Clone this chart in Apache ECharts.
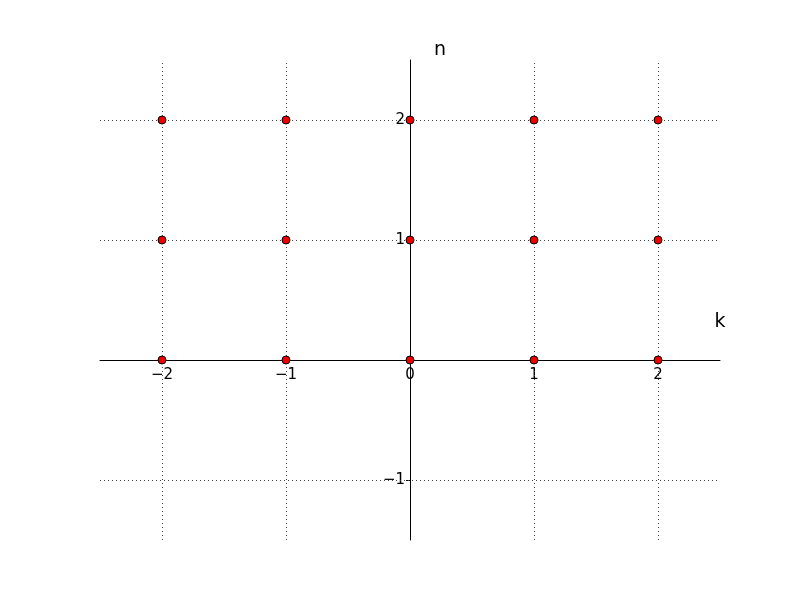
<!DOCTYPE html>
<html><head><meta charset="utf-8">
<script src="https://cdn.jsdelivr.net/npm/echarts@6/dist/echarts.min.js"></script>
<style>html,body{margin:0;padding:0;background:#fff}#c{width:800px;height:600px}</style>
</head><body><div id="c"></div>
<script>
const kValues = [-2, -1, 0, 1, 2];
const nValues = [0, 1, 2];
const xTicks = [-2, -1, 0, 1, 2];
const yTicks = [-1, 0, 1, 2];
const yLabels = [-1, 1, 2];
const xRange = [-2.5, 2.5];
const yRange = [-1.5, 2.5];

const points = [];
nValues.forEach(n => kValues.forEach(k => points.push([k, n])));

const fmt = v => (v < 0 ? '\u2212' + Math.abs(v) : String(v));
const font = 'DejaVu Sans';
const gridLine = { color: '#444', width: 1, type: [1, 3] };

const G = { left: 100, top: 60, width: 620, height: 480 };
// shift spines to pass through zero (like matplotlib 'zero' spines)
const xAxisOffset = -((0 - yRange[0]) / (yRange[1] - yRange[0])) * G.height;
const yAxisOffset = -((0 - xRange[0]) / (xRange[1] - xRange[0])) * G.width;

const chart = echarts.init(document.getElementById('c'));
chart.setOption({
  animation: false,
  grid: G,
  xAxis: [{
    type: 'value', min: xRange[0], max: xRange[1], position: 'bottom', offset: xAxisOffset,
    axisLine: { onZero: false, lineStyle: { color: '#000', width: 1 } },
    axisTick: { show: true, customValues: xTicks, length: 4, lineStyle: { color: '#000' } },
    axisLabel: { customValues: xTicks, formatter: fmt, color: '#000', fontFamily: font, fontSize: 15, margin: 8 },
    splitLine: { show: false },
    name: 'k', nameLocation: 'end', nameGap: 0,
    nameTextStyle: { fontFamily: font, fontSize: 19, color: '#000', align: 'center', verticalAlign: 'bottom', padding: [0, 0, 28, 0] }
  }, {
    type: 'value', min: xRange[0], max: xRange[1], position: 'top',
    axisLine: { show: false },
    axisTick: { show: true, inside: true, customValues: xTicks, length: 4, lineStyle: { color: '#000' } },
    axisLabel: { show: false }, splitLine: { show: false }
  }],
  yAxis: [{
    type: 'value', min: yRange[0], max: yRange[1], position: 'left', offset: yAxisOffset,
    axisLine: { onZero: false, lineStyle: { color: '#000', width: 1 } },
    axisTick: { show: true, customValues: yTicks, length: 4, lineStyle: { color: '#000' } },
    axisLabel: { customValues: yLabels, formatter: fmt, color: '#000', fontFamily: font, fontSize: 15, margin: 5 },
    splitLine: { show: false },
    name: 'n', nameLocation: 'end', nameGap: 0,
    nameTextStyle: { fontFamily: font, fontSize: 19, color: '#000', align: 'left', verticalAlign: 'bottom', padding: [0, 0, 0, 24] }
  }, {
    type: 'value', min: yRange[0], max: yRange[1], position: 'right',
    axisLine: { show: false },
    axisTick: { show: true, inside: true, customValues: yTicks, length: 4, lineStyle: { color: '#000' } },
    axisLabel: { show: false }, splitLine: { show: false }
  }],
  series: [{
    type: 'scatter', xAxisIndex: 0, yAxisIndex: 0,
    data: points, symbolSize: 8,
    itemStyle: { color: '#ee0000', borderColor: '#000', borderWidth: 1, opacity: 1 },
    markLine: {
      silent: true, symbol: 'none', label: { show: false },
      lineStyle: gridLine,
      data: xTicks.filter(v => v !== 0).map(v => ({ xAxis: v }))
        .concat(yTicks.filter(v => v !== 0).map(v => ({ yAxis: v })))
    },
    z: 5
  }]
});
</script></body></html>
